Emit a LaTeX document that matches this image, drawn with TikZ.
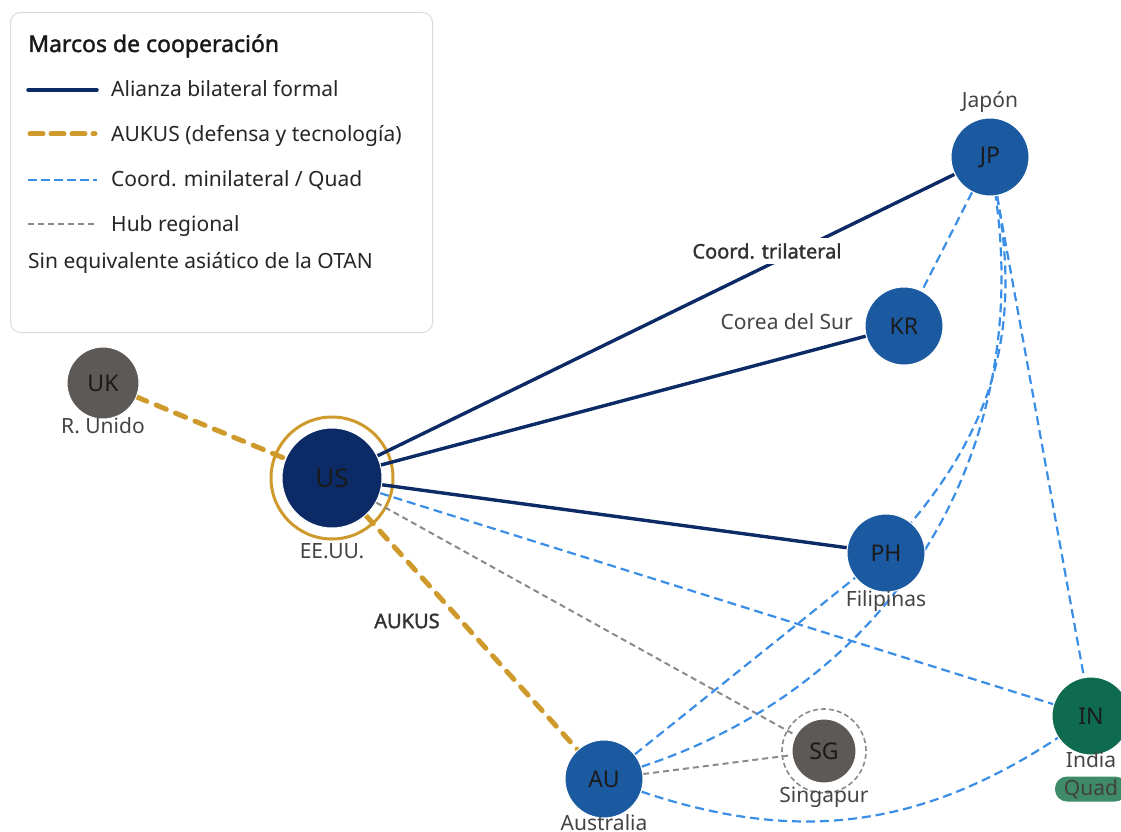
\documentclass[tikz,border=0pt]{standalone}
\usepackage{fontspec}
\setmainfont{Noto Sans}[AutoFakeBold=1.6]
\usetikzlibrary{backgrounds}
\definecolor{navy}{HTML}{0B2A66}
\definecolor{nodeblue}{HTML}{1B5AA0}
\definecolor{nodegray}{HTML}{5C5957}
\definecolor{ingreen}{HTML}{0E6B4F}
\definecolor{gold}{HTML}{CE9A2C}
\definecolor{qblue}{HTML}{3A8EE6}
\definecolor{hubgray}{HTML}{8A8A8A}
\definecolor{labelgray}{HTML}{444444}
\definecolor{badge}{HTML}{3F8B69}
\definecolor{legendborder}{HTML}{DADADA}
\definecolor{codetext}{HTML}{1A1A1A}
\tikzset{
  country/.style={circle, draw=white, line width=1pt, text=codetext, inner sep=0pt,
    minimum size=78pt, font=\fontsize{23}{23}\selectfont},
  lbl/.style={text=labelgray, inner sep=0pt, font=\fontsize{21}{21}\selectfont},
  elabel/.style={fill=white, text=black!80, inner sep=5pt, font=\bfseries\fontsize{20}{20}\selectfont},
  alliance/.style={draw=navy, line width=3.4pt},
  aukusline/.style={draw=gold, line width=5pt, line cap=round, dash pattern=on 11pt off 10pt},
  quadline/.style={draw=qblue, line width=2.2pt, dash pattern=on 9pt off 5pt},
  hubline/.style={draw=hubgray, line width=2pt, dash pattern=on 6pt off 4pt},
  legtext/.style={anchor=base west, text=black!85, inner sep=0pt, font=\fontsize{21}{21}\selectfont}
}
\begin{document}
\begin{tikzpicture}[x=1pt, y=-1pt]
\useasboundingbox (0,0) rectangle (1121,832);
\clip (0,0) rectangle (1121,832);

% legend
\node[draw=legendborder, line width=1pt, rounded corners=10pt, fill=white,
  minimum width=422pt, minimum height=320pt, anchor=north west, inner sep=0pt] (legend) at (10,12) {};
\node[anchor=base west, inner sep=0pt, text=black!90, font=\bfseries\fontsize{23}{23}\selectfont] (ltitle) at (28,52) {Marcos de cooperación};
\coordinate (la1) at (28,90); \coordinate (lb1) at (97,90);
\coordinate (la2) at (30,134); \coordinate (lb2) at (95,134);
\coordinate (la3) at (28,180); \coordinate (lb3) at (97,180);
\coordinate (la4) at (28,224); \coordinate (lb4) at (97,224);
\draw[alliance, line width=3.5pt, line cap=round] (la1) -- (lb1);
\draw[aukusline, dash pattern=on 13pt off 8pt] (la2) -- (lb2);
\draw[quadline, dash pattern=on 9pt off 4pt] (la3) -- (lb3);
\draw[hubline] (la4) -- (lb4);
\node[legtext] (lt1) at (111,97) {Alianza bilateral formal};
\node[legtext] (lt2) at (111,141.5) {AUKUS (defensa y tecnología)};
\node[legtext] (lt3) at (111,186.5) {Coord. minilateral / Quad};
\node[legtext] (lt4) at (111,231) {Hub regional};
\node[legtext] (lt5) at (28,268) {Sin equivalente asiático de la OTAN};

% nodes
\node[country, fill=navy, minimum size=100pt, font=\fontsize{26}{26}\selectfont] (US) at (332,478) {US};
\node[country, fill=nodegray, minimum size=72pt] (UK) at (103,383) {UK};
\node[country, fill=nodeblue] (JP) at (990,157) {JP};
\node[country, fill=nodeblue] (KR) at (904,326) {KR};
\node[country, fill=nodeblue] (PH) at (886,553) {PH};
\node[country, fill=ingreen] (IN) at (1091,716) {IN};
\node[country, fill=nodeblue] (AU) at (604,779) {AU};
\node[country, fill=nodegray, minimum size=64pt] (SG) at (824,751) {SG};

% node labels
\node[lbl] (USl) at (332,551) {EE.UU.};
\node[lbl] (UKl) at (103,426) {R. Unido};
\node[lbl] (JPl) at (990,102) {Japón};
\node[lbl, anchor=east] (KRl) at (853,322) {Corea del Sur};
\node[lbl] (PHl) at (886,601) {Filipinas};
\node[lbl] (INl) at (1091,760) {India};
\node[lbl] (AUl) at (604,823) {Australia};
\node[lbl] (SGl) at (824,797) {Singapur};
\node[fill=badge, rounded corners=12pt, minimum width=72pt, minimum height=25pt, inner sep=0pt,
  text=black!75, font=\fontsize{21}{21}\selectfont] (quad) at (1091,789) {Quad};

% edge labels
\node[elabel] (trilab) at (767,251) {Coord. trilateral};
\node[elabel] (auklab) at (407,621) {AUKUS};

% edges
\begin{scope}[on background layer]
\node[circle, draw=gold, line width=3pt, minimum size=122pt, inner sep=0pt] (USring) at (US.center) {};
\node[circle, draw=hubgray, line width=1.6pt, dash pattern=on 5pt off 3pt, minimum size=84pt, inner sep=0pt] (SGring) at (SG.center) {};
\draw[alliance] (US) -- (JP);
\draw[alliance] (US) -- (KR);
\draw[alliance] (US) -- (PH);
\draw[aukusline] (UK) -- (US);
\draw[aukusline] (US) -- (AU);
\draw[quadline] (US) -- (IN);
\draw[hubline] (US) -- (SG);
\draw[hubline] (AU) -- (SG);
\draw[quadline] (AU) -- (PH);
\draw[quadline] (JP) -- (KR);
\draw[quadline] (JP) -- (IN);
\draw[quadline] (JP) to[bend left=25] (PH);
\draw[quadline] (AU) to[bend right=40] (JP);
\draw[quadline] (AU) to[bend right=26] (IN);
\end{scope}
\end{tikzpicture}
\end{document}
